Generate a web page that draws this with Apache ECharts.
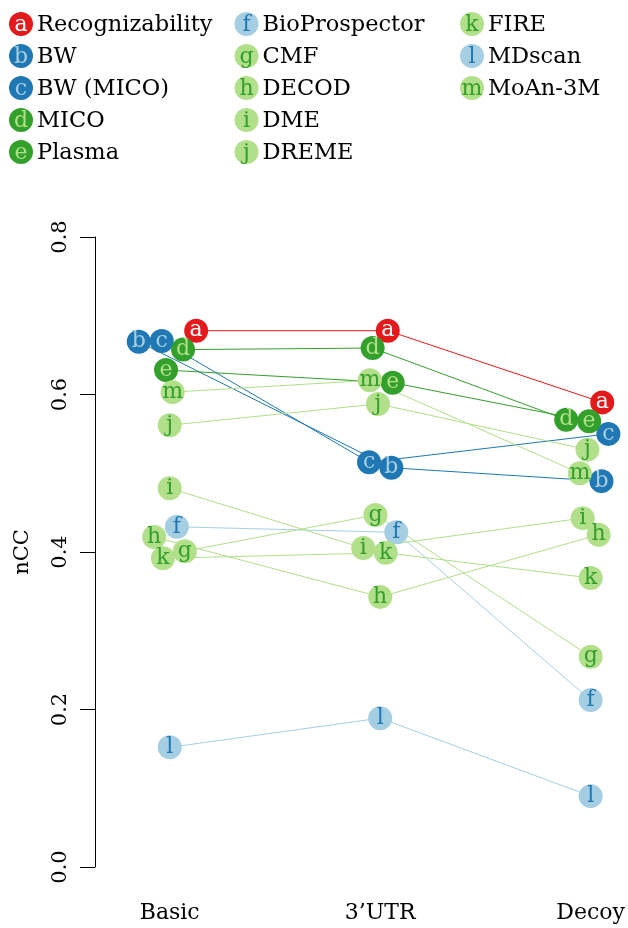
<!DOCTYPE html>
<html>
<head>
<meta charset="utf-8">
<script src="https://cdn.jsdelivr.net/npm/echarts@6/dist/echarts.min.js"></script>
<style>
  html, body { margin: 0; padding: 0; background: #fff; }
  #main { width: 628px; height: 928px; }
</style>
</head>
<body>
<div id="main"></div>
<script>
// Conditions along the x axis
const categories = ['Basic', '3’UTR', 'Decoy'];

// Methods, their plot letters and nCC per condition (Basic, 3'UTR, Decoy)
const methods = ['Recognizability', 'BW', 'BW (MICO)', 'MICO', 'Plasma', 'BioProspector',
  'CMF', 'DECOD', 'DME', 'DREME', 'FIRE', 'MDscan', 'MoAn-3M'];
const letters = ['a', 'b', 'c', 'd', 'e', 'f', 'g', 'h', 'i', 'j', 'k', 'l', 'm'];

const recognizability = [0.681, 0.681, 0.590];
const bw              = [0.667, 0.507, 0.490];
const bwMico          = [0.668, 0.514, 0.550];
const mico            = [0.657, 0.659, 0.568];
const plasma          = [0.631, 0.615, 0.566];
const bioProspector   = [0.432, 0.425, 0.212];
const cmf             = [0.401, 0.447, 0.267];
const decod           = [0.419, 0.343, 0.422];
const dme             = [0.481, 0.405, 0.443];
const dreme           = [0.561, 0.588, 0.530];
const fire            = [0.392, 0.399, 0.367];
const mdscan          = [0.152, 0.189, 0.090];
const moan3m          = [0.603, 0.618, 0.500];

const yTicks = [0, 0.2, 0.4, 0.6, 0.8];

const values = [recognizability, bw, bwMico, mico, plasma, bioProspector,
  cmf, decod, dme, dreme, fire, mdscan, moan3m];

// Paired palette: fill colour and the letter colour drawn on it
const RED = '#E31A1C', DBLUE = '#1F78B4', LBLUE = '#A6CEE3', DGREEN = '#33A02C', LGREEN = '#B2DF8A';
const fills = [RED, DBLUE, DBLUE, DGREEN, DGREEN, LBLUE, LGREEN, LGREEN, LGREEN, LGREEN, LGREEN, LBLUE, LGREEN];
const inks  = ['#ffffff', LBLUE, LBLUE, LGREEN, LGREEN, DBLUE, DGREEN, DGREEN, DGREEN, DGREEN, DGREEN, DBLUE, DGREEN];

const FONT = 'DejaVu Serif';
const SYMBOL = 24;

const chart = echarts.init(document.getElementById('main'), null, { renderer: 'canvas' });

// Legend: three columns of lettered discs
const legendItems = [];
methods.forEach((name, i) => {
  const col = Math.floor(i / 5), row = i % 5;
  const cx = 21 + col * 225.5, cy = 24 + row * 32;
  legendItems.push({
    type: 'circle', shape: { cx: cx, cy: cy, r: SYMBOL / 2 },
    style: { fill: fills[i] }, silent: true
  });
  legendItems.push({
    type: 'text', x: cx, y: cy + 1,
    style: { text: letters[i], fill: inks[i], font: '22px "' + FONT + '"', align: 'center', verticalAlign: 'middle' },
    silent: true
  });
  legendItems.push({
    type: 'text', x: cx + 16, y: cy + 1,
    style: { text: name, fill: '#000', font: '22.5px "' + FONT + '"', align: 'left', verticalAlign: 'middle' },
    silent: true
  });
});

const baseOption = {
  animation: false,
  backgroundColor: '#ffffff',
  grid: { left: 95, right: 0, top: 237, bottom: 61, containLabel: false },
  xAxis: {
    type: 'value', min: 0.645, max: 3.17,
    axisLine: { show: false }, axisTick: { show: false }, splitLine: { show: false },
    axisLabel: {
      customValues: [1, 2, 3],
      formatter: v => categories[Math.round(v) - 1],
      fontFamily: FONT, fontSize: 22, color: '#000', margin: 35
    }
  },
  yAxis: {
    type: 'value', min: 0, max: 0.8, interval: 0.2,
    name: 'nCC', nameLocation: 'middle', nameGap: 62, nameRotate: 90,
    nameTextStyle: { fontFamily: FONT, fontSize: 21, color: '#000' },
    axisLine: { show: true, lineStyle: { color: '#000', width: 1 } },
    axisTick: { show: true, length: 15, lineStyle: { color: '#000', width: 1 } },
    splitLine: { show: false },
    axisLabel: {
      rotate: 90, margin: 24,
      customValues: yTicks,
      formatter: v => v.toFixed(1),
      fontFamily: FONT, fontSize: 21, color: '#000'
    }
  },
  graphic: { elements: legendItems },
  series: []
};
chart.setOption(baseOption);

// Spread discs that would overlap at the same condition sideways
const yPx = v => chart.convertToPixel({ yAxisIndex: 0 }, v);
const xUnit = chart.convertToPixel({ xAxisIndex: 0 }, 2) - chart.convertToPixel({ xAxisIndex: 0 }, 1);
const GAP = 23;
const shifts = values.map(() => [0, 0, 0]);
for (let c = 0; c < categories.length; c++) {
  const ys = values.map(s => yPx(s[c]));
  const xs = values.map((s, i) => (6 - i) * 0.001);
  for (let iter = 0; iter < 600; iter++) {
    for (let i = 0; i < values.length; i++) {
      for (let j = i + 1; j < values.length; j++) {
        const dy = Math.abs(ys[i] - ys[j]);
        if (dy >= GAP) continue;
        const need = Math.sqrt(GAP * GAP - dy * dy);
        const dx = xs[j] - xs[i];
        if (Math.abs(dx) < need) {
          const push = (need - Math.abs(dx)) / 2 * 0.5 * (dx >= 0 ? 1 : -1);
          xs[i] -= push;
          xs[j] += push;
        }
      }
    }
  }
  xs.forEach((x, i) => { shifts[i][c] = x / xUnit; });
}

const series = [];
values.forEach((vals, i) => {
  const pts = vals.map((v, c) => [c + 1 + shifts[i][c], v]);
  series.push({
    name: methods[i], type: 'line', data: pts, z: 2,
    symbol: 'none', silent: true,
    lineStyle: { color: fills[i], width: 1 }
  });
});
values.forEach((vals, i) => {
  const pts = vals.map((v, c) => [c + 1 + shifts[i][c], v]);
  series.push({
    name: methods[i], type: 'scatter', data: pts, z: 3,
    symbol: 'circle', symbolSize: SYMBOL, silent: true,
    itemStyle: { color: fills[i], opacity: 1 },
    label: {
      show: true, position: 'inside', formatter: letters[i],
      color: inks[i], fontFamily: FONT, fontSize: 22
    },
    emphasis: { disabled: true }
  });
});

chart.setOption({ series: series });
</script>
</body>
</html>
